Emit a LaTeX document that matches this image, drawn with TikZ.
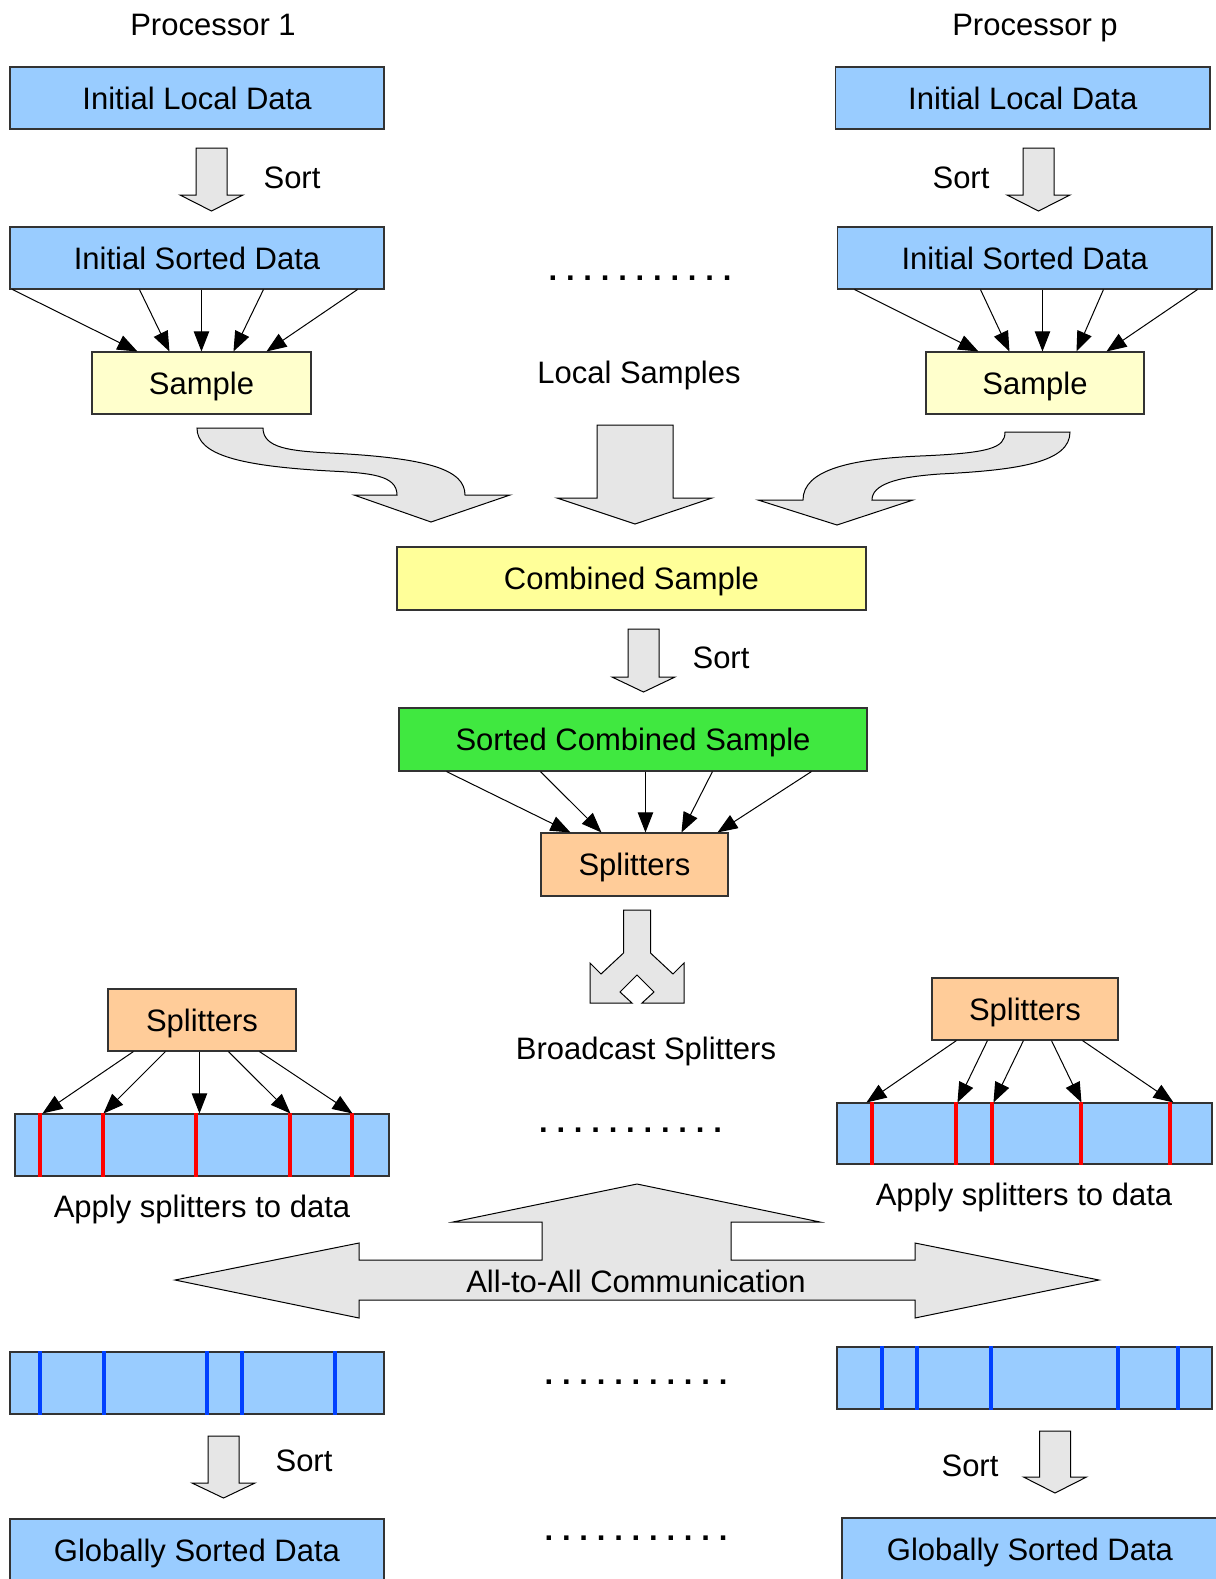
\documentclass[tikz,border=0pt]{standalone}
\usepackage{fontspec}
\setmainfont{Liberation Sans}
\usetikzlibrary{arrows.meta,calc}

\definecolor{databl}{HTML}{99CCFF}
\definecolor{smpyel}{HTML}{FFFFCC}
\definecolor{cmbyel}{HTML}{FFFF99}
\definecolor{sortgrn}{HTML}{40E840}
\definecolor{splor}{HTML}{FFCC99}
\definecolor{arrgray}{HTML}{E6E6E6}
\definecolor{cutred}{HTML}{FF0000}
\definecolor{cutblue}{HTML}{0040FF}
\definecolor{edgegray}{HTML}{333333}

% block arrow pointing down: centre x, top y, head-base y, tip y
\newcommand\blockdown[4]{%
  \draw[big] ({#1-15.5},#2) -- ({#1+15.5},#2) -- ({#1+15.5},#3) -- ({#1+31.5},#3)
    -- (#1,#4) -- ({#1-31.5},#3) -- ({#1-15.5},#3) -- cycle;}

% a row of eleven dots
\newcommand\dotrow{\bfseries.\hspace{6.6pt}.\hspace{6.6pt}.\hspace{6.6pt}.\hspace{6.6pt}.\hspace{6.6pt}.\hspace{6.6pt}.\hspace{6.6pt}.\hspace{6.6pt}.\hspace{6.6pt}.\hspace{6.6pt}.}

\begin{document}
\begin{tikzpicture}[x=0.75pt,y=-0.75pt,
  every node/.style={font=\fontsize{23.25pt}{28pt}\selectfont,
    text height=16.65pt, text depth=0pt, inner sep=0pt},
  box/.style 2 args={draw=edgegray, line width=0.8pt,
    minimum width=#1*0.75pt, minimum height=#2*0.75pt},
  txt/.style={},
  big/.style={draw=black, line width=0.75pt, fill=arrgray, line join=miter},
  link/.style={line width=0.75pt, -{Triangle[length=15pt,width=11.5pt]}},
  cut/.style={line width=3pt}
]
\useasboundingbox (0,0) rectangle (1216,1579);
\clip (0,0) rectangle (1216,1579);

% column headings
\node[txt] (p1) at (213,24) {Processor 1};
\node[txt] (pp) at (1035,24) {Processor p};

% local data and local sort
\node[box={374}{62}, fill=databl] (ildL) at (197,98) {Initial Local Data};
\node[box={374.5}{62}, fill=databl] (ildR) at (1022.75,98) {Initial Local Data};
\blockdown{211.5}{148}{195}{211}
\blockdown{1038.5}{148}{195}{211}
\node[txt] (sortL) at (292,177) {Sort};
\node[txt] (sortR) at (961,177) {Sort};
\node[box={374}{62}, fill=databl] (isdL) at (197,258) {Initial Sorted Data};
\node[box={374.5}{62}, fill=databl] (isdR) at (1024.75,258) {Initial Sorted Data};
\node[anchor=base] (dots1) at (640,280.5) {\dotrow};

% local samples
\node[box={219}{62}, fill=smpyel] (smpL) at (201.5,383) {Sample};
\node[box={218}{62}, fill=smpyel] (smpR) at (1035,383) {Sample};
\foreach \a/\b in {3/46,130/78,192/110,254/142,348/175}
  \draw[link] ($(isdL.south west)+(\a,0)$) -- ($(smpL.north west)+(\b,0)$);
\foreach \a/\b in {17.5/53,143.5/84,205.5/117,266.5/151,360.5/181}
  \draw[link] ($(isdR.south west)+(\a,0)$) -- ($(smpR.north west)+(\b,0)$);
\node[txt] (lsmp) at (639,372) {Local Samples};

% gathering the samples
\draw[big] (197,428) -- (263,428) .. controls (263,448) and (290,451) .. (330,453)
  .. controls (430,458) and (465,470) .. (465,495) -- (510,495) -- (431,522)
  -- (354,495) -- (397,495) .. controls (397,475) and (370,473) .. (330,471)
  .. controls (240,466) and (197,455) .. (197,428) -- cycle;
\draw[big] (597,425) -- (673,425) -- (673,498) -- (712,498) -- (635,524)
  -- (557,498) -- (597,498) -- cycle;
\draw[big] (1005,432) -- (1070,432) .. controls (1070,462) and (1020,470) .. (940,474)
  .. controls (895,477) and (872,485) .. (872,500) -- (913,500) -- (837,525)
  -- (758,500) -- (803,500) .. controls (803,470) and (850,459) .. (920,456)
  .. controls (990,453) and (1005,448) .. (1005,432) -- cycle;

% combined sample, sorted, splitters chosen
\node[box={469}{63}, fill=cmbyel] (cmb) at (631.5,578.5) {Combined Sample};
\blockdown{643.5}{629}{677}{692}
\node[txt] (sortC) at (721,657) {Sort};
\node[box={468}{63}, fill=sortgrn] (scs) at (633,739.5) {Sorted Combined Sample};
\node[box={187}{63}, fill=splor] (splC) at (634.5,864.5) {Splitters};
\foreach \a/\b in {48/30,142/61,247/105,314/141,413/177}
  \draw[link] ($(scs.south west)+(\a,0)$) -- ($(splC.north west)+(\b,0)$);

% broadcast
\draw[big] (623.5,910) -- (650.5,910) -- (650.5,953) -- (673,974) -- (684,963)
  -- (684,1003) -- (642,1003) -- (654,992) -- (637,975) -- (620,992)
  -- (632,1003) -- (590,1003) -- (590,963) -- (601,974) -- (623.5,953) -- cycle;
\node[txt] (bcast) at (646,1048) {Broadcast Splitters};

% splitters applied locally
\node[box={188}{62}, fill=splor] (splL) at (202,1020) {Splitters};
\node[box={186}{62}, fill=splor] (splR) at (1025,1009) {Splitters};
\node[box={374}{62}, fill=databl] (barL) at (202,1145) {};
\node[box={375}{61}, fill=databl] (barR) at (1024.5,1133.5) {};
\foreach \o in {26,89,182,276,338}
  \draw[cut, cutred] ($(barL.north west)+(\o,0)$) -- ($(barL.south west)+(\o,0)$);
\foreach \o in {36,120,156,245,334}
  \draw[cut, cutred] ($(barR.north west)+(\o,0)$) -- ($(barR.south west)+(\o,0)$);
\foreach \a/\b in {26/28,58/89,92/185,121/276,152/338}
  \draw[link] ($(splL.south west)+(\a,0)$) -- ($(barL.north west)+(\b,0)$);
\foreach \a/\b in {25/30,56/121,92/157,120/245,151/337}
  \draw[link] ($(splR.south west)+(\a,0)$) -- ($(barR.north west)+(\b,0)$);
\node[txt] (applyL) at (202,1206) {Apply splitters to data};
\node[txt] (applyR) at (1024,1194) {Apply splitters to data};
\node[anchor=base] (dots2) at (630.5,1132.5) {\dotrow};

% exchange
\draw[big] (175,1280) -- (359,1243) -- (359,1260) -- (542,1260) -- (542,1222)
  -- (453,1222) -- (637,1184) -- (820,1222) -- (731,1222) -- (731,1260)
  -- (915,1260) -- (915,1243) -- (1099,1280) -- (915,1318) -- (915,1300)
  -- (359,1300) -- (359,1318) -- cycle;
\node[txt] (a2a) at (636,1281) {All-to-All Communication};

% received data and final sort
\node[box={374}{62}, fill=databl] (recL) at (197,1383) {};
\node[box={375}{62}, fill=databl] (recR) at (1024.5,1378) {};
\foreach \o in {31,95,198,233,326}
  \draw[cut, cutblue] ($(recL.north west)+(\o,0)$) -- ($(recL.south west)+(\o,0)$);
\foreach \o in {46,81,155,282,342}
  \draw[cut, cutblue] ($(recR.north west)+(\o,0)$) -- ($(recR.south west)+(\o,0)$);
\node[anchor=base] (dots3) at (636,1384.5) {\dotrow};
\blockdown{223.5}{1436}{1483}{1498}
\blockdown{1055}{1431}{1477}{1493}
\node[txt] (sortBL) at (304,1460) {Sort};
\node[txt] (sortBR) at (970,1465) {Sort};
\node[box={374}{62}, fill=databl] (gsdL) at (197,1550) {Globally Sorted Data};
\node[box={376}{62}, fill=databl] (gsdR) at (1030,1549) {Globally Sorted Data};
\node[anchor=base] (dots4) at (636,1540.5) {\dotrow};
\end{tikzpicture}
\end{document}
